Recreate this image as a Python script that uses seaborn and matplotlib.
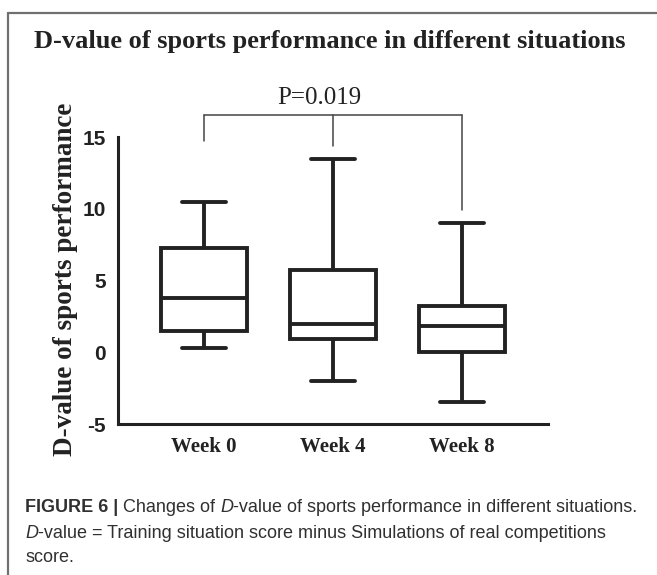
import matplotlib
matplotlib.use("Agg")
import matplotlib.pyplot as plt
import seaborn as sns
import pandas as pd
from matplotlib.lines import Line2D

# values (min-to-max whiskers, Prism style)
weeks = ['Week 0', 'Week 4', 'Week 8']
d_min = [0.3, -2.0, -3.5]
d_q1 = [1.5, 0.9, 0.0]
d_med = [3.8, 2.0, 1.8]
d_q3 = [7.3, 5.7, 3.2]
d_max = [10.5, 13.5, 9.0]

# significance bracket
bracket_top = 16.5
bracket_legs = [14.7, 14.4, 9.9]
p_text = 'P=0.019'

# five numbers per group give exactly these quartiles with linear percentiles
rows = []
for i, w in enumerate(weeks):
    for v in [d_min[i], d_q1[i], d_med[i], d_q3[i], d_max[i]]:
        rows.append({'week': w, 'dval': v})
df = pd.DataFrame(rows)

sns.set_style("white")
plt.rcParams['font.family'] = ['Liberation Serif', 'DejaVu Serif']
plt.rcParams['axes.unicode_minus'] = False

fig = plt.figure(figsize=(6.57, 5.75), dpi=100)
ax = fig.add_axes([0.1796, 0.2626, 0.6545, 0.4991])

ink = '#222222'
sns.boxplot(
    data=df, x='week', y='dval', order=weeks,
    whis=(0, 100), width=0.67, showfliers=False,
    color='white', linecolor=ink, linewidth=2.8, ax=ax
)

ax.set_xlim(-0.667, 2.667)
ax.set_ylim(-5, 15)
ax.set_yticks([-5, 0, 5, 10, 15])
ax.set_xlabel('')
ax.set_ylabel('')
for side in ['top', 'right']:
    ax.spines[side].set_visible(False)
for side in ['left', 'bottom']:
    ax.spines[side].set_linewidth(2.2)
    ax.spines[side].set_color(ink)
ax.tick_params(axis='y', direction='out', length=7, width=2.2, color=ink, pad=1.5,
               labelsize=15, labelcolor=ink)
ax.tick_params(axis='x', direction='out', length=5, width=2.2, color=ink, pad=4,
               labelsize=15, labelcolor=ink)
for lab in ax.get_yticklabels():
    lab.set_family('Liberation Sans')
    lab.set_fontweight('bold')
for lab in ax.get_xticklabels():
    lab.set_family('Liberation Serif')
    lab.set_fontweight('bold')

# bracket with p value
bc = '#444444'
ax.plot([0, 2], [bracket_top, bracket_top], color=bc, lw=1.1, clip_on=False)
for i, low in enumerate(bracket_legs):
    ax.plot([i, i], [low, bracket_top], color=bc, lw=1.1, clip_on=False)
ax.text(0.895, 17.75, p_text, ha='center', va='center', fontsize=18, color=ink)

# titles
fig.text(0.502, 0.927, 'D-value of sports performance in different situations',
         ha='center', va='center', fontsize=19, fontweight='bold', color=ink)
fig.text(0.099, 0.515, 'D-value of sports performance', rotation=90,
         ha='center', va='center', fontsize=19.5, fontweight='bold', color=ink)

# outer frame (top and left edges visible)
fc = '#707070'
fig.add_artist(Line2D([8 / 657, 1], [1 - 13 / 575, 1 - 13 / 575], color=fc, lw=1.6))
fig.add_artist(Line2D([8 / 657, 8 / 657], [0, 1 - 13 / 575], color=fc, lw=1.6))

# caption, built from runs of differently styled text
cap_color = '#303030'
renderer = fig.canvas.get_renderer()


def put_runs(x, y, runs, size=13):
    for s, w, st in runs:
        t = fig.text(x, y, s, fontsize=size, fontweight=w, fontstyle=st,
                     family='Liberation Sans', color=cap_color, ha='left', va='center')
        x += t.get_window_extent(renderer=renderer).width / fig.bbox.width


put_runs(25 / 657, 1 - 507 / 575, [
    ('FIGURE 6 | ', 'bold', 'normal'),
    ('Changes of ', 'normal', 'normal'),
    ('D', 'normal', 'italic'),
    ('-value of sports performance in different situations.', 'normal', 'normal'),
])
put_runs(25 / 657, 1 - 533 / 575, [
    ('D', 'normal', 'italic'),
    ('-value = Training situation score minus Simulations of real competitions', 'normal', 'normal'),
])
put_runs(25 / 657, 1 - 558 / 575, [('score.', 'normal', 'normal')])

fig.savefig('out.png', dpi=100)
